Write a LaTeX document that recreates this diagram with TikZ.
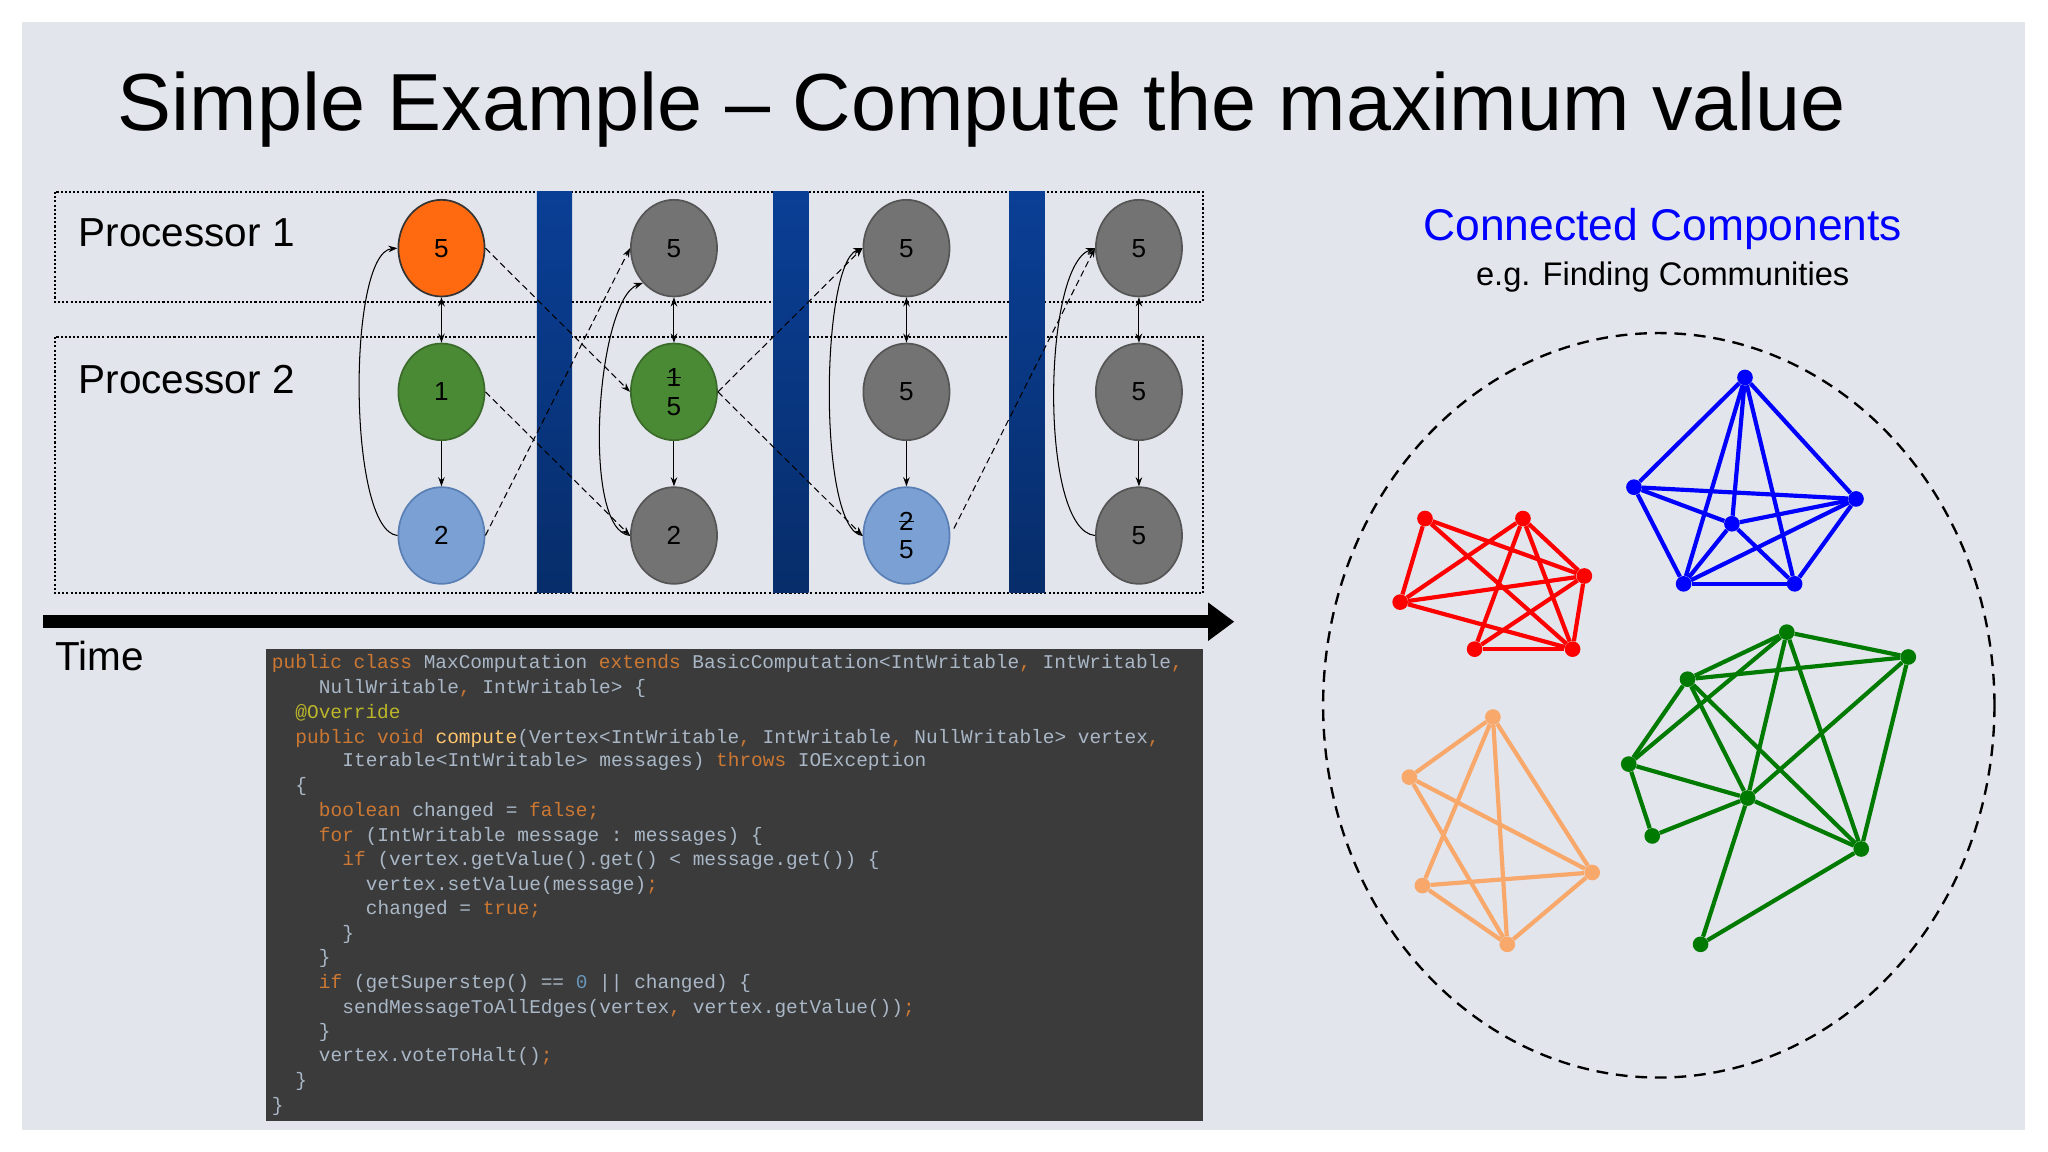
\documentclass[tikz,border=0pt]{standalone}
\usepackage{fontspec}
\setmainfont{Liberation Sans}
\setmonofont{Liberation Mono}
\usetikzlibrary{shapes.geometric,arrows.meta}
\definecolor{bg}{HTML}{E3E5EC}
\definecolor{orn}{HTML}{FF6A10}
\definecolor{grn}{HTML}{4A8A35}
\definecolor{grnd}{HTML}{3A6B2A}
\definecolor{lb}{HTML}{7BA0D4}
\definecolor{lbd}{HTML}{5A7FB5}
\definecolor{gry}{HTML}{737373}
\definecolor{gryd}{HTML}{555555}
\definecolor{codebg}{HTML}{3B3B3C}
\definecolor{ctx}{HTML}{A9B7C6}
\definecolor{kwc}{HTML}{CC7832}
\definecolor{ann}{HTML}{BBB529}
\definecolor{fnc}{HTML}{FFC66D}
\definecolor{numc}{HTML}{6897BB}
\definecolor{rd}{HTML}{FF0000}
\definecolor{bl}{HTML}{0000FF}
\definecolor{gg}{HTML}{007A00}
\definecolor{og}{HTML}{F7A86A}
\newcommand\kw[1]{\textcolor{kwc}{#1}}
\newcommand\strk[1]{\makebox[0pt][l]{#1}\rule[0.33em]{0.56em}{0.7pt}}
\tikzset{
  vtx/.style={ellipse,draw,line width=1.3pt,minimum width=66pt,minimum height=74pt,inner sep=0pt,
    font=\fontsize{20}{24}\selectfont,align=center},
  vo/.style={vtx,fill=orn,draw=black!80},
  vg/.style={vtx,fill=grn,draw=grnd},
  vb/.style={vtx,fill=lb,draw=lbd},
  vy/.style={vtx,fill=gry,draw=gryd},
  arr/.style={-{Stealth[length=7pt,width=5pt]},line width=0.8pt},
  darr/.style={{Stealth[length=7pt,width=5pt]}-{Stealth[length=7pt,width=5pt]},line width=0.8pt},
  dsh/.style={arr,dashed,dash pattern=on 5pt off 3pt},
  pbox/.style={draw,line width=1.6pt,dash pattern=on 1.6pt off 1.6pt},
  bar/.style={top color=HTML0A3F96,bottom color=HTML072D6A,draw=none},
  cl/.style={anchor=base west,inner sep=0pt,text=ctx,font=\fontsize{14.9}{18}\ttfamily},
  gd/.style={circle,inner sep=0pt,minimum size=12pt},
  ge/.style={line width=3.2pt},
}
\definecolor{HTML0A3F96}{HTML}{0A3F96}
\definecolor{HTML072D6A}{HTML}{072D6A}
\begin{document}
\begin{tikzpicture}[x=1pt,y=-1pt]
\useasboundingbox (0,0) rectangle (1568,882);
\fill[white] (0,0) rectangle (1568,882);
\fill[bg] (17,17) rectangle (1550,865);
\node[anchor=base west,inner sep=0pt,font=\fontsize{62}{70}\selectfont] (title) at (90,100) {Simple Example -- Compute the maximum value};
% processor boxes
\draw[pbox] (42,147) rectangle (921,231);
\draw[pbox] (42,258) rectangle (921,454);
\node[anchor=base west,inner sep=0pt,font=\fontsize{31}{36}\selectfont] (p1) at (60,189) {Processor 1};
\node[anchor=base west,inner sep=0pt,font=\fontsize{31}{36}\selectfont] (p2) at (60,301) {Processor 2};
% bars
\shade[bar] (411,147) rectangle (438,454);
\shade[bar] (592,147) rectangle (619,454);
\shade[bar] (773,147) rectangle (800,454);
% vertices
\node[vo] (a1) at (338,190) {5};
\node[vg] (a2) at (338,300) {1};
\node[vb] (a3) at (338,410) {2};
\node[vy] (b1) at (516,190) {5};
\node[vg] (b2) at (516,300) {\strk{1}\\[-2pt]5};
\node[vy] (b3) at (516,410) {2};
\node[vy] (c1) at (694,190) {5};
\node[vy] (c2) at (694,300) {5};
\node[vb] (c3) at (694,410) {\strk{2}\\[-2pt]5};
\node[vy] (d1) at (872,190) {5};
\node[vy] (d2) at (872,300) {5};
\node[vy] (d3) at (872,410) {5};
% edges
\foreach \c in {a,b,c,d}{
  \draw[darr] (\c1) -- (\c2);
  \draw[arr] (\c2) -- (\c3);
}
\draw[arr] (a3.west) to[out=175,in=185,looseness=0.45] (a1.west);
\draw[arr] (b3.west) to[out=175,in=200,looseness=0.5] (b1.south west);
\draw[arr] (c3.west) to[out=175,in=200,looseness=0.4] (c1.west);
\draw[arr] (d3.west) to[out=175,in=200,looseness=0.5] (d1.west);
\draw[dsh] (a1.east) -- (b2.west);
\draw[dsh] (a2.east) -- (b3.west);
\draw[dsh] (a3.east) -- (b1.west);
\draw[dsh] (b2.east) -- (c1.west);
\draw[dsh] (b2.east) -- (c3.west);
\draw[dsh,shorten <=6pt] (c3.east) -- (d1.west);
% time
\coordinate (t0) at (33,476);
\coordinate (t1) at (945,476);
\draw[line width=10pt,-{Triangle[length=20pt,width=28pt]}] (t0) -- (t1);
\node[anchor=base west,inner sep=0pt,font=\fontsize{31}{36}\selectfont] (time) at (42,513) {Time};
% code
\fill[codebg] (204,497) rectangle (921,858);
\node[cl] (l1) at (208,512) {\kw{public class} MaxComputation \kw{extends} BasicComputation<IntWritable\kw{,} IntWritable\kw{,}};
\node[cl] (l2) at (244,531) {NullWritable\kw{,} IntWritable> \{};
\node[cl] (l3) at (226,550) {\textcolor{ann}{@Override}};
\node[cl] (l4) at (226,569) {\kw{public void} \textcolor{fnc}{compute}(Vertex<IntWritable\kw{,} IntWritable\kw{,} NullWritable> vertex\kw{,}};
\node[cl] (l5) at (262,587) {Iterable<IntWritable> messages) \kw{throws} IOException};
\node[cl] (l6) at (226,606) {\{};
\node[cl] (l7) at (244,625) {\kw{boolean} changed = \kw{false;}};
\node[cl] (l8) at (244,644) {\kw{for} (IntWritable message : messages) \{};
\node[cl] (l9) at (262,663) {\kw{if} (vertex.getValue().get() < message.get()) \{};
\node[cl] (l10) at (280,682) {vertex.setValue(message)\kw{;}};
\node[cl] (l11) at (280,700) {changed = \kw{true;}};
\node[cl] (l12) at (262,719) {\}};
\node[cl] (l13) at (244,738) {\}};
\node[cl] (l14) at (244,757) {\kw{if} (getSuperstep() == \textcolor{numc}{0} || changed) \{};
\node[cl] (l15) at (262,776) {sendMessageToAllEdges(vertex\kw{,} vertex.getValue())\kw{;}};
\node[cl] (l16) at (244,794) {\}};
\node[cl] (l17) at (244,813) {vertex.voteToHalt()\kw{;}};
\node[cl] (l18) at (226,832) {\}};
\node[cl] (l19) at (208,851) {\}};
% right side
\node[font=\fontsize{34}{40}\selectfont,text=bl] (cc) at (1273,175) {Connected Components};
\node[font=\fontsize{25}{30}\selectfont] (eg) at (1273,212) {e.g. Finding Communities};
\draw[line width=1.8pt,dash pattern=on 9pt off 6pt] (1270,540) ellipse (257 and 285);
% red
\foreach \n/\x/\y in {1/1091/397,2/1166/397,3/1213/441,4/1072/461,5/1129/497,6/1204/497}
  \node[gd,fill=rd] (r\n) at (\x,\y) {};
\foreach \u/\v in {1/3,1/4,1/6,2/4,2/3,2/5,2/6,4/3,4/6,5/3,5/6,3/6}
  \draw[ge,rd] (r\u) -- (r\v);
% blue
\foreach \n/\x/\y in {1/1336/289,2/1251/373,3/1421/382,4/1326/401,5/1289/447,6/1374/447}
  \node[gd,fill=bl] (b\n x) at (\x,\y) {};
\foreach \u/\v in {1/2,1/3,1/4,1/5,1/6,2/3,2/4,2/5,4/3,4/5,4/6,5/3,5/6,6/3}
  \draw[ge,bl] (b\u x) -- (b\v x);
% green
\foreach \n/\x/\y in {1/1368/484,2/1461/503,3/1292/520,4/1247/585,5/1338/611,6/1265/640,7/1425/650,8/1302/723}
  \node[gd,fill=gg] (g\n) at (\x,\y) {};
\foreach \u/\v in {1/2,1/3,1/4,1/5,1/7,3/2,3/4,3/5,3/7,4/5,5/7,4/6,6/5,5/2,2/7,7/8,5/8}
  \draw[ge,gg] (g\u) -- (g\v);
% orange
\foreach \n/\x/\y in {1/1143/549,2/1079/595,3/1219/668,4/1089/678,5/1154/723}
  \node[gd,fill=og] (o\n) at (\x,\y) {};
\foreach \u/\v in {1/2,1/3,1/4,1/5,2/3,2/5,4/3,4/5,5/3}
  \draw[ge,og] (o\u) -- (o\v);
\end{tikzpicture}
\end{document}
